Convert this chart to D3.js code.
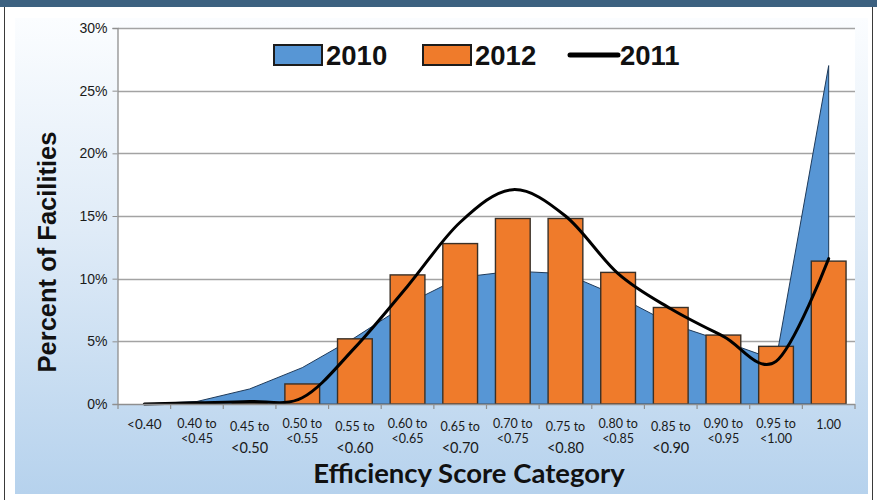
<!DOCTYPE html>
<html>
<head>
<meta charset="utf-8">
<script src="https://cdn.jsdelivr.net/npm/d3@7"></script>
<style>
  html, body { margin: 0; padding: 0; background: #ffffff; }
  svg { display: block; }
</style>
</head>
<body>
<svg id="chart" width="877" height="500"></svg>
<script>
// Efficiency score categories (x axis)
const categories = [
  "<0.40", "0.40 to <0.45", "0.45 to <0.50", "0.50 to <0.55", "0.55 to <0.60",
  "0.60 to <0.65", "0.65 to <0.70", "0.70 to <0.75", "0.75 to <0.80",
  "0.80 to <0.85", "0.85 to <0.90", "0.90 to <0.95", "0.95 to <1.00", "1.00"
];

// Percent of facilities in each category, by year
const series2010 = [0, 0.2, 1.2, 2.9, 5.3, 8.0, 10.1, 10.6, 10.4, 8.6, 6.4, 5.0, 3.5, 27.0];
const series2012 = [0, 0, 0.1, 1.6, 5.2, 10.3, 12.8, 14.8, 14.8, 10.5, 7.7, 5.5, 4.6, 11.4];
const series2011 = [0, 0.1, 0.2, 0.5, 4.5, 9.4, 14.5, 17.1, 15.0, 10.4, 7.6, 5.4, 3.4, 11.6];

// Y axis ticks (percent)
const yTicks = [0, 5, 10, 15, 20, 25, 30];

const legendItems = [
  { label: "2010", kind: "area" },
  { label: "2012", kind: "bar" },
  { label: "2011", kind: "line" }
];

const colors = {
  header: "#3c6180",
  blue: "#5796d5",
  blueEdge: "#1e3a5a",
  orange: "#ef7b2b",
  barEdge: "#3a3027",
  grid: "#a3a3a3",
  axis: "#8f8f8f",
  text: "#1a1a1a"
};

const svg = d3.select("#chart");
const W = 877, H = 500;
const plot = { left: 118, right: 855, top: 28, bottom: 404 };

// ---- frame and backgrounds ----
const defs = svg.append("defs");
const grad = defs.append("linearGradient")
  .attr("id", "bgGrad").attr("x1", 0).attr("y1", 0).attr("x2", 0).attr("y2", 1);
grad.append("stop").attr("offset", "0%").attr("stop-color", "#fbfdff");
grad.append("stop").attr("offset", "45%").attr("stop-color", "#dfebf7");
grad.append("stop").attr("offset", "100%").attr("stop-color", "#b6d2ed");

svg.append("rect").attr("x", 0).attr("y", 0).attr("width", W).attr("height", H).attr("fill", "#ffffff");
svg.append("rect").attr("x", 0).attr("y", 0).attr("width", W).attr("height", 7).attr("fill", colors.header);
svg.append("line").attr("x1", 4.5).attr("x2", 4.5).attr("y1", 7).attr("y2", H)
  .attr("stroke", "#3a3a3a").attr("stroke-width", 1);
svg.append("line").attr("x1", 872.5).attr("x2", 872.5).attr("y1", 7).attr("y2", H)
  .attr("stroke", "#3a3a3a").attr("stroke-width", 1);
svg.append("rect").attr("x", 15).attr("y", 18).attr("width", 853).attr("height", 476)
  .attr("fill", "url(#bgGrad)");
svg.append("rect")
  .attr("x", plot.left).attr("y", plot.top)
  .attr("width", plot.right - plot.left).attr("height", plot.bottom - plot.top)
  .attr("fill", "#ffffff");

// ---- scales ----
const x = d3.scaleBand().domain(categories).range([plot.left, plot.right]).paddingInner(0).paddingOuter(0);
const y = d3.scaleLinear().domain([0, 30]).range([plot.bottom, plot.top]);
const cx = c => x(c) + x.bandwidth() / 2;

// ---- gridlines ----
svg.append("g").selectAll("line")
  .data(yTicks.filter(t => t > 0))
  .join("line")
  .attr("x1", plot.left).attr("x2", plot.right)
  .attr("y1", d => Math.round(y(d)) + 0.5).attr("y2", d => Math.round(y(d)) + 0.5)
  .attr("stroke", colors.grid).attr("stroke-width", 1.3);

// ---- 2010 area ----
const area = d3.area()
  .x((d, i) => cx(categories[i]))
  .y0(y(0))
  .y1(d => y(d))
  .curve(d3.curveLinear);
svg.append("path")
  .datum(series2010)
  .attr("d", area)
  .attr("fill", colors.blue)
  .attr("stroke", colors.blueEdge)
  .attr("stroke-width", 1)
  .attr("stroke-linejoin", "round");

// ---- 2012 bars ----
const barW = x.bandwidth() * 0.66;
svg.append("g").selectAll("rect")
  .data(series2012.map((v, i) => ({ c: categories[i], v })).filter(d => d.v > 0))
  .join("rect")
  .attr("x", d => cx(d.c) - barW / 2)
  .attr("width", barW)
  .attr("y", d => y(d.v))
  .attr("height", d => y(0) - y(d.v))
  .attr("fill", colors.orange)
  .attr("stroke", colors.barEdge)
  .attr("stroke-width", 1.4);

// ---- 2011 smoothed line ----
const line = d3.line()
  .x((d, i) => cx(categories[i]))
  .y(d => y(d))
  .curve(d3.curveCardinal.tension(0));
svg.append("path")
  .datum(series2011)
  .attr("d", line)
  .attr("fill", "none")
  .attr("stroke", "#000000")
  .attr("stroke-width", 3)
  .attr("stroke-linecap", "round");

// ---- axes ----
const yAxis = d3.axisLeft(y).tickValues(yTicks).tickFormat(d => d + "%").tickSize(5).tickPadding(5);
const gy = svg.append("g").attr("transform", `translate(${plot.left - 0.5},0)`).call(yAxis);
gy.select(".domain").attr("stroke", colors.axis).attr("stroke-width", 1.3);
gy.selectAll(".tick line").attr("stroke", colors.axis);
gy.selectAll(".tick text")
  .attr("font-family", "'Liberation Sans', Arial, sans-serif")
  .attr("font-size", 14)
  .attr("fill", colors.text);

// x axis: baseline plus ticks at category boundaries
svg.append("line")
  .attr("x1", plot.left).attr("x2", plot.right)
  .attr("y1", plot.bottom + 0.5).attr("y2", plot.bottom + 0.5)
  .attr("stroke", colors.axis).attr("stroke-width", 1.3);
const boundaries = categories.map(c => x(c)).concat([plot.right]);
svg.append("g").selectAll("line")
  .data(boundaries)
  .join("line")
  .attr("x1", d => d).attr("x2", d => d)
  .attr("y1", plot.bottom).attr("y2", plot.bottom + 5)
  .attr("stroke", colors.axis).attr("stroke-width", 1.2);

// category labels, staggered in two styles
const xl = svg.append("g")
  .attr("font-family", "Lato, 'Open Sans', sans-serif")
  .attr("fill", colors.text)
  .attr("text-anchor", "middle");
categories.forEach((c, i) => {
  const parts = c.includes(" to ") ? [c.split(" to ")[0] + " to", c.split(" to ")[1]] : [c];
  const tall = (i % 2 === 0) && i > 0 && i < 12;
  const px = cx(c);
  if (parts.length === 1) {
    xl.append("text").attr("x", px).attr("y", 429)
      .attr("font-size", i === 0 ? 13.5 : 12.5).text(parts[0]);
  } else if (tall) {
    xl.append("text").attr("x", px).attr("y", 431).attr("font-size", 12.5).text(parts[0]);
    xl.append("text").attr("x", px).attr("y", 453).attr("font-size", 14.5).text(parts[1]);
  } else {
    xl.append("text").attr("x", px).attr("y", 428).attr("font-size", 12.5).text(parts[0]);
    xl.append("text").attr("x", px).attr("y", 443).attr("font-size", 12.5).text(parts[1]);
  }
});

// axis titles
svg.append("text")
  .attr("x", 469).attr("y", 483)
  .attr("text-anchor", "middle")
  .attr("font-family", "Lato, 'Open Sans', sans-serif")
  .attr("font-weight", 700)
  .attr("font-size", 27.5)
  .attr("fill", "#111")
  .text("Efficiency Score Category");

svg.append("text")
  .attr("transform", "translate(56,252) rotate(-90)")
  .attr("text-anchor", "middle")
  .attr("font-family", "'Liberation Sans', Arial, sans-serif")
  .attr("font-weight", 700)
  .attr("font-size", 25.5)
  .attr("fill", "#111")
  .text("Percent of Facilities");

// ---- legend ----
const legendPos = [274, 423, 568];
const lg = svg.append("g");
legendItems.forEach((item, i) => {
  const lx = legendPos[i];
  if (item.kind === "line") {
    lg.append("line").attr("x1", lx + 2).attr("x2", lx + 50).attr("y1", 55).attr("y2", 55)
      .attr("stroke", "#000").attr("stroke-width", 5).attr("stroke-linecap", "round");
  } else {
    lg.append("rect").attr("x", lx).attr("y", 45).attr("width", 48).attr("height", 20)
      .attr("fill", item.kind === "area" ? colors.blue : colors.orange)
      .attr("stroke", "#1c1c1c").attr("stroke-width", 2);
  }
  lg.append("text")
    .attr("x", lx + 52).attr("y", 65)
    .attr("font-family", "'Liberation Sans', Arial, sans-serif")
    .attr("font-weight", 700)
    .attr("font-size", 27.5)
    .attr("fill", "#111")
    .text(item.label);
});
</script>
</body>
</html>
